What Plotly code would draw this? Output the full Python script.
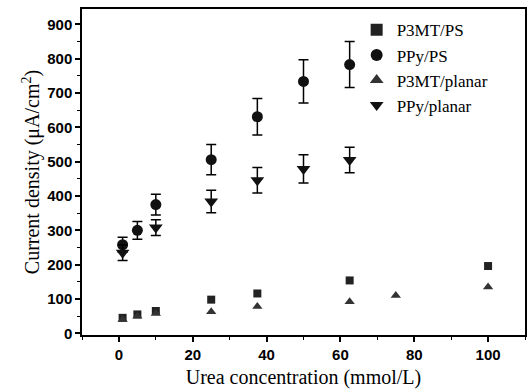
import plotly.graph_objects as go

# P3MT/PS (squares)
p3mt_ps_x = [1, 5, 10, 25, 37.5, 62.5, 100]
p3mt_ps_y = [45, 55, 65, 98, 116, 154, 196]

# PPy/PS (circles)
ppy_ps_x = [1, 5, 10, 25, 37.5, 50, 62.5]
ppy_ps_y = [258, 300, 375, 506, 631, 734, 783]
ppy_ps_err = [22, 26, 30, 44, 53, 63, 67]

# P3MT/planar (triangles up)
p3mt_pl_x = [1, 5, 10, 25, 37.5, 62.5, 75, 100]
p3mt_pl_y = [40, 50, 58, 63, 78, 92, 110, 135]

# PPy/planar (triangles down)
ppy_pl_x = [1, 10, 25, 37.5, 50, 62.5]
ppy_pl_y = [235, 308, 384, 446, 479, 505]
ppy_pl_err = [23, 23, 33, 37, 41, 37]

x_ticks = [0, 20, 40, 60, 80, 100]
y_ticks = [0, 100, 200, 300, 400, 500, 600, 700, 800, 900]

err_style = dict(type="data", thickness=1.5, width=5, color="black")

fig = go.Figure()
fig.add_trace(go.Scatter(x=p3mt_ps_x, y=p3mt_ps_y, mode="markers", name="P3MT/PS",
                         marker=dict(symbol="square", size=8, color="#222")))
fig.add_trace(go.Scatter(x=ppy_ps_x, y=ppy_ps_y, mode="markers", name="PPy/PS",
                         marker=dict(symbol="circle", size=11, color="#111"),
                         error_y=dict(array=ppy_ps_err, **err_style)))
fig.add_trace(go.Scatter(x=p3mt_pl_x, y=p3mt_pl_y, mode="markers", name="P3MT/planar",
                         marker=dict(symbol="triangle-up", size=9, color="#333")))
fig.add_trace(go.Scatter(x=ppy_pl_x, y=ppy_pl_y, mode="markers", name="PPy/planar",
                         marker=dict(symbol="triangle-down", size=12, color="#111"),
                         error_y=dict(array=ppy_pl_err, **err_style)))

axis_common = dict(showline=True, linecolor="black", linewidth=1.5, mirror=True,
                   ticks="outside", tickcolor="black", ticklen=5, tickwidth=1.5,
                   showgrid=False, zeroline=False, automargin=False,
                   tickfont=dict(family="Liberation Sans, Arial", size=15, color="black",
                                 weight="bold"),
                   minor=dict(ticks="outside", ticklen=3, tickcolor="black", tickwidth=1))

title_font = dict(family="Liberation Serif, Times New Roman", size=20, color="black")

fig.update_xaxes(range=[-10, 110], tickvals=x_ticks,
                 minor_dtick=10,
                 title=dict(text="Urea concentration (mmol/L)", standoff=8, font=title_font),
                 **axis_common)
fig.update_yaxes(range=[-5, 945], tickvals=y_ticks,
                 minor_dtick=50,
                 title=dict(text="Current density (μA/cm<sup>2</sup>)", standoff=2, font=title_font),
                 **axis_common)

fig.update_layout(
    width=527, height=391,
    margin=dict(l=82, r=2, t=9, b=56, autoexpand=False),
    plot_bgcolor="white", paper_bgcolor="white",
    legend=dict(x=0.62, y=0.99, xanchor="left", yanchor="top",
                bgcolor="rgba(0,0,0,0)", tracegroupgap=0, itemsizing="constant",
                font=dict(family="Liberation Serif, Times New Roman", size=17, color="black")),
)

fig.write_html("out.html", config={"displayModeBar": False},
               post_script="document.body.style.margin='0';document.body.style.overflow='hidden';")
